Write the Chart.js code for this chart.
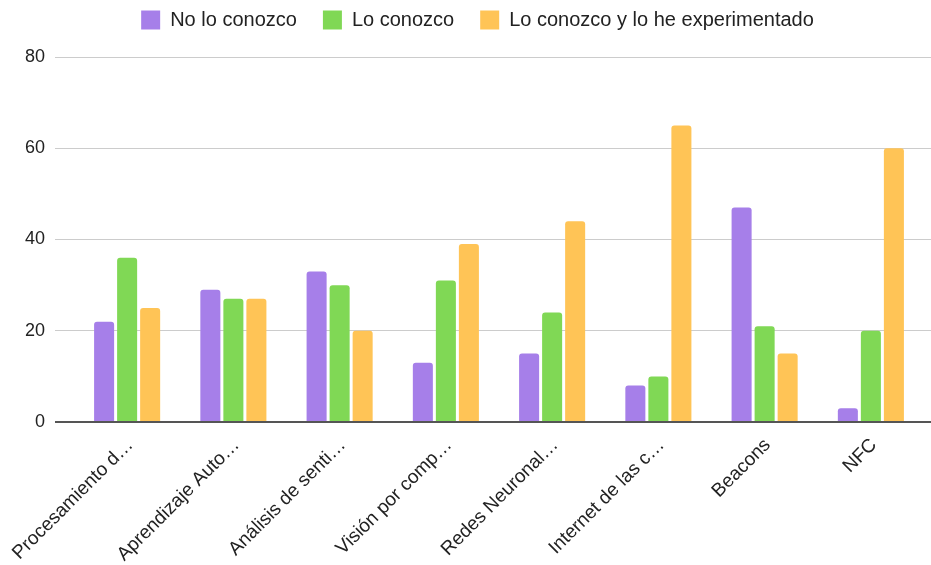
<!DOCTYPE html>
<html>
<head>
<meta charset="utf-8">
<script src="https://cdn.jsdelivr.net/npm/chart.js@4"></script>
<style>
  html, body { margin: 0; padding: 0; background: #fff; }
  #wrap { width: 931px; height: 565px; }
</style>
</head>
<body>
<div id="wrap"><canvas id="chart"></canvas></div>
<script>
// categorias (ya recortadas como en el original)
const categories = [
    'Procesamiento d\u2026',
    'Aprendizaje Auto\u2026',
    'Análisis de senti\u2026',
    'Visión por comp\u2026',
    'Redes Neuronal\u2026',
    'Internet de las c\u2026',
    'Beacons',
    'NFC'
];
const noLoConozco = [22, 29, 33, 13, 15, 8, 47, 3];
const loConozco = [36, 27, 30, 31, 24, 10, 21, 20];
const loExperimentado = [25, 27, 20, 39, 44, 65, 15, 60];
const yTicks = [0, 20, 40, 60, 80];

const font = 'Liberation Sans, Arial, sans-serif';

const makeSet = (label, data, color) => ({
    label: label,
    data: data,
    backgroundColor: color,
    borderWidth: 0,
    borderRadius: { topLeft: 3, topRight: 3 },
    borderSkipped: 'bottom',
    categoryPercentage: 0.65,
    barPercentage: 0.87
});

// la leyenda ocupa una altura fija y se dibuja más arriba
const legendGap = {
    id: 'legendGap',
    beforeInit(chart) {
        const fit = chart.legend.fit;
        chart.legend.fit = function () {
            fit.call(this);
            this.height = 57;
        };
    },
    afterLayout(chart) {
        const lg = chart.legend;
        lg.top -= 16;
        lg.bottom -= 16;
        lg.left += 12;
        lg.right += 12;
    }
};

const gridColor = c => (c.tick && c.tick.value === 0 ? '#555' : '#cccccc');
const gridWidth = c => (c.tick && c.tick.value === 0 ? 2 : 1);

new Chart(document.getElementById('chart'), {
    type: 'bar',
    data: {
        labels: categories,
        datasets: [
            makeSet('No lo conozco', noLoConozco, '#a67fe9'),
            makeSet('Lo conozco', loConozco, '#80d855'),
            makeSet('Lo conozco y lo he experimentado', loExperimentado, '#ffc456')
        ]
    },
    plugins: [legendGap],
    options: {
        responsive: true,
        maintainAspectRatio: false,
        animation: false,
        layout: { padding: 0 },
        scales: {
            x: {
                grid: { display: false, drawTicks: false },
                border: { display: false },
                ticks: {
                    color: '#222',
                    font: { family: font, size: 19 },
                    minRotation: 45,
                    maxRotation: 45,
                    autoSkip: false,
                    padding: 12,
                    labelOffset: 3
                },
                afterFit: s => {
                    s.height = 143;
                    s.paddingLeft = 0;
                    s.paddingRight = 0;
                }
            },
            y: {
                min: 0,
                max: 80,
                afterBuildTicks: s => { s.ticks = yTicks.map(v => ({ value: v })); },
                grid: { color: gridColor, lineWidth: gridWidth, drawTicks: true, tickLength: 19 },
                border: { display: false },
                ticks: {
                    color: '#222',
                    font: { family: font, size: 18 },
                    padding: 10
                },
                afterFit: s => { s.width = 74; }
            },
            y2: {
                position: 'right',
                min: 0,
                max: 80,
                afterBuildTicks: s => { s.ticks = yTicks.map(v => ({ value: v })); },
                grid: { drawOnChartArea: false, color: gridColor, lineWidth: gridWidth, drawTicks: true, tickLength: 7 },
                border: { display: false },
                ticks: { display: false },
                afterFit: s => { s.width = 7; }
            }
        },
        plugins: {
            legend: {
                position: 'top',
                labels: {
                    color: '#222',
                    font: { family: font, size: 20 },
                    boxWidth: 19,
                    boxHeight: 19,
                    padding: 26
                }
            },
            tooltip: { enabled: false }
        }
    }
});
</script>
</body>
</html>
